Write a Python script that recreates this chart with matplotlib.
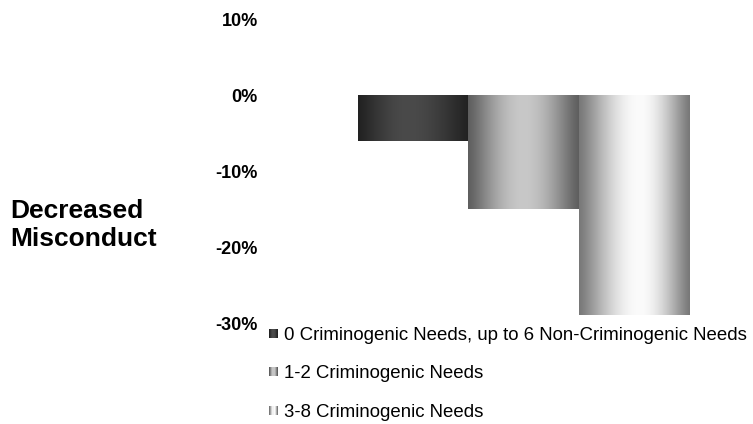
import numpy as np
import matplotlib
matplotlib.use("Agg")
import matplotlib.pyplot as plt
from matplotlib.patches import Rectangle
from matplotlib.legend_handler import HandlerBase

# ---- data ----
categories = ["0 Criminogenic Needs, up to 6 Non-Criminogenic Needs",
              "1-2 Criminogenic Needs",
              "3-8 Criminogenic Needs"]
values = [-0.06, -0.15, -0.29]
yticks = [0.10, 0.0, -0.10, -0.20, -0.30]
ytick_labels = ["10%", "0%", "-10%", "-20%", "-30%"]
ylabel_text = "Decreased\nMisconduct"

# gradient styles (edge gray, peak gray, peak position)
grad_styles = [(0x22, 0x4a, 0.45), (0x5e, 0xc8, 0.5), (0x78, 0xfb, 0.55)]


def gradient_row(edge, peak, pos, n=256):
    t = np.linspace(0, 1, n)
    w = np.where(t < pos, t / pos, (1 - t) / (1 - pos))
    w = np.sin(w * np.pi / 2) ** 1.2
    g = (edge + (peak - edge) * w) / 255.0
    return np.dstack([g, g, g])


plt.rcParams['font.family'] = ['Liberation Sans', 'DejaVu Sans']

W, H = 753, 424
fig = plt.figure(figsize=(W / 100, H / 100), dpi=100)

ax_left_px, ax_right_px = 262, 745
top_px, bot_px = 20, 323
ax = fig.add_axes([ax_left_px / W, 1 - bot_px / H,
                   (ax_right_px - ax_left_px) / W, (bot_px - top_px) / H])

x = np.arange(len(values))
bars = ax.bar(x, values, width=1.0, color='none', edgecolor='none')

for b, (edge, peak, pos) in zip(bars, grad_styles):
    x0, y0 = b.get_x(), b.get_y()
    w, h = b.get_width(), b.get_height()
    img = gradient_row(edge, peak, pos)
    ax.imshow(img, extent=[x0, x0 + w, y0 + h, y0], aspect='auto',
              interpolation='bilinear', zorder=2)

scale = (689 - 358) / 3.0
ax.set_xlim(-0.5 - (358 - ax_left_px) / scale, 2.5 + (ax_right_px - 689) / scale)
ax.set_ylim(-0.30, 0.10)
ax.set_yticks(yticks)
ax.set_yticklabels(ytick_labels, fontsize=13, fontweight='bold')
ax.tick_params(axis='y', length=0, pad=3)
ax.set_xticks([])
for s in ax.spines.values():
    s.set_visible(False)

fig.text(10 / W, 1 - 225 / H, ylabel_text, fontsize=19, fontweight='bold',
         ha='left', va='center', linespacing=1.22)


class GradHandler(HandlerBase):
    def __init__(self, style):
        super().__init__()
        self.style = style

    def create_artists(self, legend, orig_handle, xdescent, ydescent,
                       width, height, fontsize, trans):
        edge, peak, pos = self.style
        row = gradient_row(edge, peak, pos, n=8)[0]
        side = min(width, height)
        y0 = -ydescent + (height - side) / 2
        x0 = -xdescent
        arts = []
        n = len(row)
        for i in range(n):
            r = Rectangle((x0 + i * side / n, y0), side / n, side,
                          facecolor=row[i], edgecolor='none', transform=trans)
            arts.append(r)
        return arts


handles = [Rectangle((0, 0), 1, 1) for _ in categories]
hmap = {h: GradHandler(s) for h, s in zip(handles, grad_styles)}
fig.legend(handles, categories, handler_map=hmap, loc='upper left',
           bbox_to_anchor=(269 / W, 1 - 327 / H), frameon=False,
           fontsize=13.4, labelspacing=1.15, handlelength=0.5, handleheight=0.5,
           handletextpad=0.3, borderpad=0, borderaxespad=0)

fig.savefig("out.png", dpi=100)
